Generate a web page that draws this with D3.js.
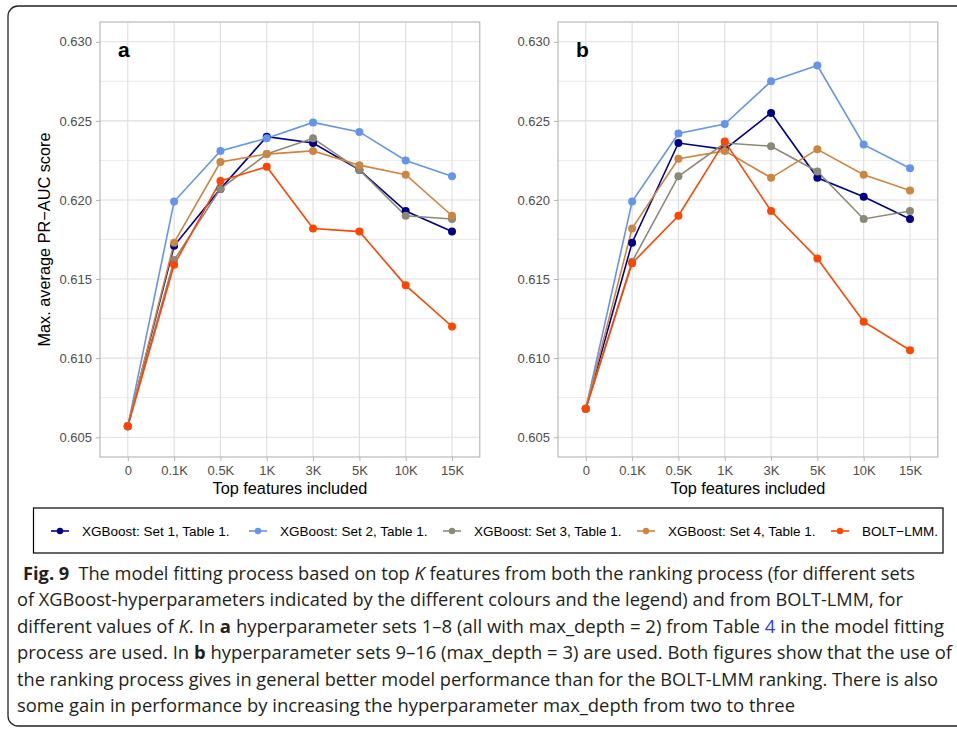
<!DOCTYPE html>
<html lang="en">
    <head>
        <meta charset="utf-8">
        <title>Fig 9</title>
        <script type="text/javascript" src="https://cdnjs.cloudflare.com/ajax/libs/d3/7.8.5/d3.min.js"></script>
        <style type="text/css">
            body { margin: 0; background: #fff; }
            svg text { font-family: "Liberation Sans", Arial, sans-serif; }
        </style>
    </head>
    <body>
        <script type="text/javascript">
            var w = 957;
            var h = 729;

            // x categories and y ticks
            var features = ["0", "0.1K", "0.5K", "1K", "3K", "5K", "10K", "15K"];
            var yTicks = [0.605, 0.610, 0.615, 0.620, 0.625, 0.630];
            var yMinor = [0.6075, 0.6125, 0.6175, 0.6225, 0.6275];

            var seriesNames = ["XGBoost: Set 1, Table 1.", "XGBoost: Set 2, Table 1.",
                               "XGBoost: Set 3, Table 1.", "XGBoost: Set 4, Table 1.", "BOLT\u2212LMM."];
            var colors = ["#00008B", "#6495ED", "#8B8878", "#CD853F", "#FF4500"];

            // panel a (max_depth = 2)
            var a_set1 = [0.6057, 0.6171, 0.6207, 0.6240, 0.6236, 0.6219, 0.6193, 0.6180];
            var a_set2 = [0.6057, 0.6199, 0.6231, 0.6239, 0.6249, 0.6243, 0.6225, 0.6215];
            var a_set3 = [0.6057, 0.6162, 0.6207, 0.6229, 0.6239, 0.6219, 0.6190, 0.6188];
            var a_set4 = [0.6057, 0.6173, 0.6224, 0.6229, 0.6231, 0.6222, 0.6216, 0.6190];
            var a_bolt = [0.6057, 0.6159, 0.6212, 0.6221, 0.6182, 0.6180, 0.6146, 0.6120];

            // panel b (max_depth = 3)
            var b_set1 = [0.6068, 0.6173, 0.6236, 0.6232, 0.6255, 0.6214, 0.6202, 0.6188];
            var b_set2 = [0.6068, 0.6199, 0.6242, 0.6248, 0.6275, 0.6285, 0.6235, 0.6220];
            var b_set3 = [0.6068, 0.6161, 0.6215, 0.6236, 0.6234, 0.6218, 0.6188, 0.6193];
            var b_set4 = [0.6068, 0.6182, 0.6226, 0.6231, 0.6214, 0.6232, 0.6216, 0.6206];
            var b_bolt = [0.6068, 0.6160, 0.6190, 0.6237, 0.6193, 0.6163, 0.6123, 0.6105];

            var svg = d3.select("body")
                        .append("svg")
                        .attr("width", w)
                        .attr("height", h);

            // outer frame, open to the right
            svg.append("rect")
               .attr("x", 8)
               .attr("y", 6)
               .attr("width", 1000)
               .attr("height", 720)
               .attr("rx", 10)
               .attr("fill", "none")
               .attr("stroke", "#222")
               .attr("stroke-width", 1.3);

            var plotTop = 22, plotBottom = 457;
            var ylim = [0.605, 0.630];
            var pad = (ylim[1] - ylim[0]) * 0.05;
            var y = d3.scaleLinear()
                      .domain([ylim[0] - pad, ylim[1] + pad])
                      .range([plotBottom, plotTop]);

            function drawPanel(left, right, label, series) {
                var x = d3.scalePoint()
                          .domain(features)
                          .range([left, right])
                          .padding(0.6);

                var g = svg.append("g");

                g.selectAll("line.minor")
                 .data(yMinor)
                 .enter()
                 .append("line")
                 .attr("x1", left).attr("x2", right)
                 .attr("y1", function (d) { return y(d); })
                 .attr("y2", function (d) { return y(d); })
                 .attr("stroke", "#E4E4E4")
                 .attr("stroke-width", 0.8);

                g.selectAll("line.major")
                 .data(yTicks)
                 .enter()
                 .append("line")
                 .attr("x1", left).attr("x2", right)
                 .attr("y1", function (d) { return y(d); })
                 .attr("y2", function (d) { return y(d); })
                 .attr("stroke", "#DEDEDE")
                 .attr("stroke-width", 1.1);

                g.selectAll("line.vgrid")
                 .data(features)
                 .enter()
                 .append("line")
                 .attr("x1", function (d) { return x(d); })
                 .attr("x2", function (d) { return x(d); })
                 .attr("y1", plotTop).attr("y2", plotBottom)
                 .attr("stroke", "#DEDEDE")
                 .attr("stroke-width", 1.1);

                g.append("rect")
                 .attr("x", left).attr("y", plotTop)
                 .attr("width", right - left).attr("height", plotBottom - plotTop)
                 .attr("fill", "none")
                 .attr("stroke", "#B3B3B3")
                 .attr("stroke-width", 1.1);

                var yAxis = d3.axisLeft(y)
                              .tickValues(yTicks)
                              .tickFormat(d3.format(".3f"))
                              .tickSize(4)
                              .tickPadding(4);
                var ya = g.append("g")
                          .attr("transform", "translate(" + left + ",0)")
                          .call(yAxis);
                ya.select(".domain").remove();
                ya.selectAll("line").attr("stroke", "#B3B3B3");
                ya.selectAll("text")
                  .attr("fill", "#4D4D4D")
                  .attr("font-size", "13px")
                  .attr("font-family", "Liberation Sans, Arial, sans-serif");

                var xAxis = d3.axisBottom(x)
                              .tickSize(4)
                              .tickPadding(5);
                var xa = g.append("g")
                          .attr("transform", "translate(0," + plotBottom + ")")
                          .call(xAxis);
                xa.select(".domain").remove();
                xa.selectAll("line").attr("stroke", "#B3B3B3");
                xa.selectAll("text")
                  .attr("fill", "#4D4D4D")
                  .attr("font-size", "13px")
                  .attr("font-family", "Liberation Sans, Arial, sans-serif");

                g.append("text")
                 .text("Top features included")
                 .attr("x", (left + right) / 2)
                 .attr("y", 494)
                 .attr("text-anchor", "middle")
                 .attr("font-size", "16.3px")
                 .attr("fill", "#000");

                g.append("text")
                 .text(label)
                 .attr("x", left + 18)
                 .attr("y", 57)
                 .attr("font-size", "21px")
                 .attr("font-weight", "bold")
                 .attr("fill", "#000");

                var line = d3.line()
                             .x(function (d, i) { return x(features[i]); })
                             .y(function (d) { return y(d); });

                g.selectAll("path.series")
                 .data(series)
                 .enter()
                 .append("path")
                 .attr("d", function (d) { return line(d); })
                 .attr("fill", "none")
                 .attr("stroke", function (d, i) { return colors[i]; })
                 .attr("stroke-width", 1.6);

                series.forEach(function (s, k) {
                    g.selectAll("circle.s" + k)
                     .data(s)
                     .enter()
                     .append("circle")
                     .attr("class", "s" + k)
                     .attr("cx", function (d, i) { return x(features[i]); })
                     .attr("cy", function (d) { return y(d); })
                     .attr("r", 4)
                     .attr("fill", colors[k]);
                });
            }

            drawPanel(100, 479.8, "a", [a_set1, a_set2, a_set3, a_set4, a_bolt]);
            drawPanel(558, 937.8, "b", [b_set1, b_set2, b_set3, b_set4, b_bolt]);

            svg.append("text")
               .text("Max. average PR\u2212AUC score")
               .attr("transform", "translate(50," + (plotTop + plotBottom) / 2 + ") rotate(-90)")
               .attr("text-anchor", "middle")
               .attr("font-size", "16.3px")
               .attr("fill", "#000");

            // legend
            svg.append("rect")
               .attr("x", 33.5).attr("y", 508)
               .attr("width", 909.5).attr("height", 45)
               .attr("fill", "#fff")
               .attr("stroke", "#000")
               .attr("stroke-width", 1.2);

            var keyX = [60, 258, 452, 646, 840];
            var leg = svg.selectAll("g.leg")
                         .data(seriesNames)
                         .enter()
                         .append("g")
                         .attr("transform", function (d, i) { return "translate(" + keyX[i] + ",531)"; });
            leg.append("line")
               .attr("x1", -9).attr("x2", 9)
               .attr("stroke", function (d, i) { return colors[i]; })
               .attr("stroke-width", 1.6);
            leg.append("circle")
               .attr("r", 3.2)
               .attr("fill", function (d, i) { return colors[i]; });
            leg.append("text")
               .text(function (d) { return d; })
               .attr("x", 22)
               .attr("y", 5)
               .attr("font-size", "13.5px")
               .attr("fill", "#000");

            // caption
            var capLeft = [23, 17, 17, 17, 17, 17];
            var capBase = [580, 606.4, 632.8, 659.2, 685.6, 712];
            var capRight = [915, 903, 944, 952, 938, 795];
            var capLines = [
                [["Fig. 9", "b"], ["\u2002The model fitting process based on top ", ""], ["K", "i"], [" features from both the ranking process (for different sets", ""]],
                [["of XGBoost-hyperparameters indicated by the different colours and the legend) and from BOLT-LMM, for", ""]],
                [["different values of ", ""], ["K", "i"], [". In ", ""], ["a", "b"], [" hyperparameter sets 1\u20138 (all with max_depth = 2) from Table ", ""], ["4", "link"], [" in the model fitting", ""]],
                [["process are used. In ", ""], ["b", "b"], [" hyperparameter sets 9\u201316 (max_depth = 3) are used. Both figures show that the use of", ""]],
                [["the ranking process gives in general better model performance than for the BOLT-LMM ranking. There is also", ""]],
                [["some gain in performance by increasing the hyperparameter max_depth from two to three", ""]]
            ];

            var cap = svg.selectAll("text.cap")
                         .data(capLines)
                         .enter()
                         .append("text")
                         .attr("class", "cap")
                         .attr("x", function (d, i) { return capLeft[i]; })
                         .attr("y", function (d, i) { return capBase[i]; })
                         .attr("textLength", function (d, i) { return capRight[i] - capLeft[i]; })
                         .attr("lengthAdjust", "spacingAndGlyphs")
                         .attr("font-size", "18.5px")
                         .style("font-family", "'Open Sans', 'Noto Sans', sans-serif")
                         .attr("fill", "#231F20");
            cap.selectAll("tspan")
               .data(function (d) { return d; })
               .enter()
               .append("tspan")
               .text(function (d) { return d[0]; })
               .attr("font-weight", function (d) { return d[1] == "b" ? "bold" : null; })
               .attr("font-style", function (d) { return d[1] == "i" ? "italic" : null; })
               .attr("fill", function (d) { return d[1] == "link" ? "#2B3CF0" : null; });
        </script>
    </body>
</html>
